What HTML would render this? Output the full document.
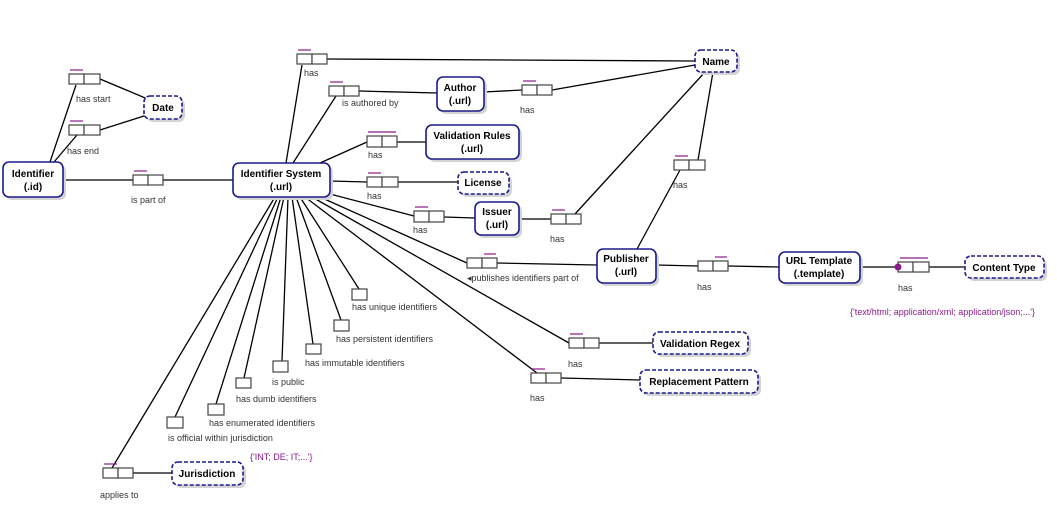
<!DOCTYPE html>
<html><head><meta charset="utf-8"><style>
html,body{margin:0;padding:0;background:#fff;}
svg{display:block;font-family:"Liberation Sans","DejaVu Sans",sans-serif;}
.e{fill:#fff;stroke:#1a1a8c;stroke-width:1.6;}
.d{fill:#fff;stroke:#1a1a8c;stroke-width:1.6;stroke-dasharray:4,2;}
.s{fill:#d4d4d4;}
.et{font-size:10px;font-weight:bold;fill:#000;text-anchor:middle;}
.l{font-size:9px;fill:#333;}
.v{font-size:9px;fill:#8b1a8b;}
.b{fill:#fff;stroke:#444;stroke-width:1.2;}
.u{stroke:#8b1a8b;stroke-width:1.2;}
line,polyline{stroke:#000;stroke-width:1.3;fill:none;}
</style></head><body>
<svg width="1057" height="507" viewBox="0 0 1057 507">
<!-- connectors -->
<line x1="50" y1="162" x2="76" y2="85"/>
<line x1="100" y1="79" x2="150" y2="100"/>
<line x1="54" y1="162" x2="77" y2="135"/>
<line x1="100" y1="130" x2="147" y2="115"/>
<line x1="63" y1="180" x2="133" y2="180"/>
<line x1="163" y1="180" x2="233" y2="180"/>
<line x1="286" y1="163" x2="302" y2="65"/>
<line x1="327" y1="59" x2="695" y2="61"/>
<line x1="293" y1="163" x2="336" y2="96"/>
<line x1="359" y1="91" x2="437" y2="93"/>
<line x1="484" y1="92" x2="522" y2="90"/>
<line x1="552" y1="90" x2="695" y2="65"/>
<line x1="320" y1="163" x2="367" y2="142"/>
<line x1="397" y1="142" x2="426" y2="142"/>
<line x1="330" y1="181" x2="367" y2="182"/>
<line x1="398" y1="182" x2="458" y2="182"/>
<line x1="330" y1="194" x2="414" y2="216"/>
<line x1="444" y1="217" x2="475" y2="218"/>
<line x1="519" y1="219" x2="551" y2="219"/>
<line x1="575" y1="214" x2="705" y2="72"/>
<line x1="713" y1="72" x2="698" y2="160"/>
<line x1="680" y1="170" x2="637" y2="249"/>
<line x1="320" y1="197" x2="467" y2="263"/>
<line x1="497" y1="263" x2="597" y2="265"/>
<line x1="656" y1="265" x2="698" y2="266"/>
<line x1="728" y1="266" x2="779" y2="267"/>
<line x1="860" y1="267" x2="898" y2="267"/>
<line x1="929" y1="267" x2="965" y2="267"/>
<line x1="312" y1="197" x2="569" y2="343"/>
<line x1="599" y1="343" x2="653" y2="343"/>
<line x1="305" y1="197" x2="537" y2="373"/>
<line x1="561" y1="378" x2="640" y2="380"/>
<line x1="300" y1="197" x2="359" y2="289"/>
<line x1="296" y1="197" x2="341" y2="320"/>
<line x1="292" y1="197" x2="313" y2="344"/>
<line x1="288" y1="197" x2="282" y2="361"/>
<line x1="284" y1="197" x2="244" y2="378"/>
<line x1="281" y1="197" x2="216" y2="404"/>
<line x1="278" y1="197" x2="175" y2="417"/>
<line x1="275" y1="197" x2="112" y2="468"/>
<line x1="133" y1="473" x2="172" y2="473"/>
<!-- entities -->
<g>
<rect class="s" x="6" y="165" width="60" height="35" rx="6"/><rect class="e" x="3" y="162" width="60" height="35" rx="6"/>
<text class="et" x="33" y="177">Identifier</text><text class="et" x="33" y="190">(.id)</text>
<rect class="s" x="236" y="166" width="97" height="34" rx="6"/><rect class="e" x="233" y="163" width="97" height="34" rx="6"/>
<text class="et" x="281" y="177">Identifier System</text><text class="et" x="281" y="190">(.url)</text>
<rect class="s" x="147" y="99" width="38" height="23" rx="6"/><rect class="d" x="144" y="96" width="38" height="23" rx="6"/>
<text class="et" x="163" y="111">Date</text>
<rect class="s" x="698" y="53" width="42" height="22" rx="6"/><rect class="d" x="695" y="50" width="42" height="22" rx="6"/>
<text class="et" x="716" y="65">Name</text>
<rect class="s" x="440" y="80" width="47" height="34" rx="6"/><rect class="e" x="437" y="77" width="47" height="34" rx="6"/>
<text class="et" x="460" y="91">Author</text><text class="et" x="460" y="104">(.url)</text>
<rect class="s" x="429" y="128" width="93" height="34" rx="6"/><rect class="e" x="426" y="125" width="93" height="34" rx="6"/>
<text class="et" x="472" y="139">Validation Rules</text><text class="et" x="472" y="152">(.url)</text>
<rect class="s" x="461" y="175" width="51" height="22" rx="6"/><rect class="d" x="458" y="172" width="51" height="22" rx="6"/>
<text class="et" x="483" y="186">License</text>
<rect class="s" x="478" y="205" width="44" height="33" rx="6"/><rect class="e" x="475" y="202" width="44" height="33" rx="6"/>
<text class="et" x="497" y="215">Issuer</text><text class="et" x="497" y="228">(.url)</text>
<rect class="s" x="600" y="252" width="59" height="34" rx="6"/><rect class="e" x="597" y="249" width="59" height="34" rx="6"/>
<text class="et" x="626" y="262">Publisher</text><text class="et" x="626" y="275">(.url)</text>
<rect class="s" x="782" y="255" width="81" height="31" rx="6"/><rect class="e" x="779" y="252" width="81" height="31" rx="6"/>
<text class="et" x="819" y="264">URL Template</text><text class="et" x="819" y="277">(.template)</text>
<rect class="s" x="968" y="259" width="79" height="22" rx="6"/><rect class="d" x="965" y="256" width="79" height="22" rx="6"/>
<text class="et" x="1004" y="271">Content Type</text>
<rect class="s" x="656" y="335" width="95" height="22" rx="6"/><rect class="d" x="653" y="332" width="95" height="22" rx="6"/>
<text class="et" x="700" y="347">Validation Regex</text>
<rect class="s" x="643" y="373" width="118" height="23" rx="6"/><rect class="d" x="640" y="370" width="118" height="23" rx="6"/>
<text class="et" x="699" y="385">Replacement Pattern</text>
<rect class="s" x="175" y="465" width="71" height="23" rx="6"/><rect class="d" x="172" y="462" width="71" height="23" rx="6"/>
<text class="et" x="207" y="477">Jurisdiction</text>
</g>
<!-- binary fact boxes -->
<g>
<rect class="b" x="69" y="74" width="15" height="10"/><rect class="b" x="84" y="74" width="16" height="10"/><line class="u" x1="70" y1="70" x2="83" y2="70"/>
<rect class="b" x="69" y="125" width="15" height="10"/><rect class="b" x="84" y="125" width="16" height="10"/><line class="u" x1="70" y1="121" x2="83" y2="121"/>
<rect class="b" x="133" y="175" width="15" height="10"/><rect class="b" x="148" y="175" width="15" height="10"/><line class="u" x1="134" y1="171" x2="147" y2="171"/>
<rect class="b" x="297" y="54" width="15" height="10"/><rect class="b" x="312" y="54" width="15" height="10"/><line class="u" x1="298" y1="50" x2="311" y2="50"/>
<rect class="b" x="329" y="86" width="15" height="10"/><rect class="b" x="344" y="86" width="15" height="10"/><line class="u" x1="330" y1="82" x2="343" y2="82"/>
<rect class="b" x="522" y="85" width="15" height="10"/><rect class="b" x="537" y="85" width="15" height="10"/><line class="u" x1="523" y1="81" x2="536" y2="81"/>
<rect class="b" x="367" y="136" width="15" height="11"/><rect class="b" x="382" y="136" width="15" height="11"/><line class="u" x1="368" y1="132" x2="396" y2="132"/>
<rect class="b" x="367" y="177" width="15" height="10"/><rect class="b" x="382" y="177" width="16" height="10"/><line class="u" x1="368" y1="173" x2="381" y2="173"/>
<rect class="b" x="414" y="211" width="15" height="11"/><rect class="b" x="429" y="211" width="15" height="11"/><line class="u" x1="415" y1="207" x2="428" y2="207"/>
<rect class="b" x="551" y="214" width="15" height="10"/><rect class="b" x="566" y="214" width="15" height="10"/><line class="u" x1="552" y1="210" x2="565" y2="210"/>
<rect class="b" x="674" y="160" width="15" height="10"/><rect class="b" x="689" y="160" width="16" height="10"/><line class="u" x1="675" y1="156" x2="688" y2="156"/>
<rect class="b" x="467" y="258" width="15" height="10"/><rect class="b" x="482" y="258" width="15" height="10"/><line class="u" x1="484" y1="254" x2="496" y2="254"/>
<rect class="b" x="698" y="261" width="15" height="10"/><rect class="b" x="713" y="261" width="15" height="10"/><line class="u" x1="715" y1="257" x2="727" y2="257"/>
<rect class="b" x="898" y="262" width="15" height="10"/><rect class="b" x="913" y="262" width="16" height="10"/><line class="u" x1="900" y1="258" x2="928" y2="258"/>
<circle cx="898" cy="267" r="3.5" fill="#8b1a8b"/>
<rect class="b" x="569" y="338" width="15" height="10"/><rect class="b" x="584" y="338" width="15" height="10"/><line class="u" x1="570" y1="334" x2="583" y2="334"/>
<rect class="b" x="531" y="373" width="15" height="10"/><rect class="b" x="546" y="373" width="15" height="10"/><line class="u" x1="532" y1="369" x2="545" y2="369"/>
<rect class="b" x="103" y="468" width="15" height="10"/><rect class="b" x="118" y="468" width="15" height="10"/><line class="u" x1="104" y1="464" x2="117" y2="464"/>
<!-- unary -->
<rect class="b" x="352" y="289" width="15" height="11"/>
<rect class="b" x="334" y="320" width="15" height="11"/>
<rect class="b" x="306" y="344" width="15" height="10"/>
<rect class="b" x="273" y="361" width="15" height="11"/>
<rect class="b" x="236" y="378" width="15" height="10"/>
<rect class="b" x="208" y="404" width="16" height="11"/>
<rect class="b" x="167" y="417" width="16" height="11"/>
</g>
<!-- labels -->
<g class="l">
<text class="l" x="76" y="102">has start</text>
<text class="l" x="67" y="154">has end</text>
<text class="l" x="131" y="203">is part of</text>
<text class="l" x="304" y="76">has</text>
<text class="l" x="342" y="106">is authored by</text>
<text class="l" x="520" y="113">has</text>
<text class="l" x="368" y="158">has</text>
<text class="l" x="367" y="199">has</text>
<text class="l" x="413" y="233">has</text>
<text class="l" x="550" y="242">has</text>
<text class="l" x="673" y="188">has</text>
<text class="l" x="467" y="281">◂publishes identifiers part of</text>
<text class="l" x="697" y="290">has</text>
<text class="l" x="898" y="291">has</text>
<text class="v" x="850" y="315">{'text/html;  application/xml;  application/json;...'}</text>
<text class="l" x="568" y="367">has</text>
<text class="l" x="530" y="401">has</text>
<text class="l" x="352" y="310">has unique identifiers</text>
<text class="l" x="336" y="342">has persistent identifiers</text>
<text class="l" x="305" y="366">has immutable identifiers</text>
<text class="l" x="272" y="385">is public</text>
<text class="l" x="236" y="402">has dumb identifiers</text>
<text class="l" x="209" y="426">has enumerated identifiers</text>
<text class="l" x="168" y="441">is official within jurisdiction</text>
<text class="v" x="250" y="460">{'INT; DE; IT;...'}</text>
<text class="l" x="100" y="498">applies to</text>
</g>
</svg>
</body></html>
